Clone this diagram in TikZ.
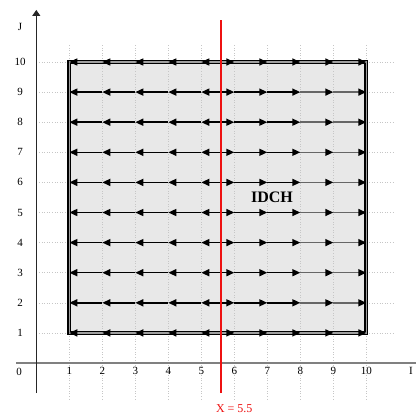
\documentclass[tikz,border=0pt]{standalone}
\usepackage{fontspec}
\setmainfont{Liberation Serif}
\usetikzlibrary{arrows.meta,positioning,backgrounds}
\def\cellwidth{33pt}
\def\cellheight{30.1pt}
\def\cutpos{5.59}
\definecolor{cellfill}{HTML}{e8e8e8}
\definecolor{cutred}{HTML}{ee1111}

\begin{document}
\begin{tikzpicture}[x=\cellwidth, y=\cellheight, myarrow/.style={-{Triangle[length=8pt,width=7pt,color=black]}}]
    \tikzstyle{grid line}=[gray!45, dotted, line width=0.6pt]
    \tikzstyle{flow}=[myarrow, line width=1.5pt, black]
    \tikzstyle{faded flow}=[flow, draw=black!60]
    \tikzstyle{edge flow}=[myarrow, line width=1.6pt, draw=gray!75]
    \tikzstyle{tick}=[font=\fontsize{11}{13}\selectfont]
    \useasboundingbox (-1.1,-1.86) rectangle (11.506,12.06);

    % Grid points
    \foreach \i in {1,...,10}
        \foreach \j in {1,...,10}
            \coordinate (g-\i-\j) at (\i,\j);
    \foreach \j in {1,...,10}
        \coordinate (m-\j) at (5.5,\j);
    \coordinate (O) at (0,0);

    % Box and guides
    \fill[cellfill] (g-1-1) rectangle (g-10-10);
    \foreach \i in {1,...,10}
        \draw[grid line] (\i,-1.2) -- (\i,10.55);
    \foreach \j in {1,...,10}
        \draw[grid line] (0,\j) -- (10.85,\j);

    % Axes
    \draw[gray, line width=1.6pt] (-0.615,0) -- (11.506,0);
    \draw[-{Triangle[length=6pt,width=8pt]}, line width=1.2pt, black!85] (0,-0.997) -- (0,11.73);

    % Flow inside the box
    \foreach \j in {2,...,9} {
        \foreach \i/\k in {1/2,2/3,3/4,4/5}
            \draw[flow] (g-\k-\j) -- (g-\i-\j);
        \draw[flow] (m-\j) -- (g-5-\j);
        \draw[flow] (m-\j) -- (g-6-\j);
        \foreach \i/\k in {6/7,7/8}
            \draw[flow] (g-\i-\j) -- (g-\k-\j);
        \foreach \i/\k in {8/9,9/10}
            \draw[faded flow] (g-\i-\j) -- (g-\k-\j);
    }

    % Border, with the edge rows on it
    \draw[line width=1.2pt, double=gray!75, double distance=1.6pt] (g-1-1) rectangle (g-10-10);
    \foreach \j in {1,10} {
        \foreach \i/\k in {1/2,2/3,3/4,4/5}
            \draw[edge flow] (g-\k-\j) -- (g-\i-\j);
        \draw[edge flow] (m-\j) -- (g-5-\j);
        \draw[edge flow] (m-\j) -- (g-6-\j);
        \foreach \i/\k in {6/7,7/8,8/9,9/10}
            \draw[edge flow] (g-\i-\j) -- (g-\k-\j);
    }

    % Cut line
    \draw[cutred, line width=2.2pt] (\cutpos,-0.997) -- (\cutpos,11.4);

    % Labels
    \foreach \i in {1,...,10}
        \node[tick] (xl-\i) at (\i,-0.27) {\i};
    \foreach \j in {1,...,10}
        \node[tick] (yl-\j) at (-0.49,\j) {\j};
    \node[tick] (xl-0) at (-0.52,-0.3) {0};
    \node[tick] (iname) at (11.35,-0.27) {I};
    \node[tick] (jname) at (-0.49,11.16) {J};
    \node[text=cutred, font=\fontsize{12}{14}\selectfont, anchor=west] (cutlabel) at (5.34,-1.5) {X = 5.5};
    \node[font=\fontsize{16}{19}\selectfont\bfseries] (idch) at (7.14,5.51) {IDCH};
\end{tikzpicture}
\end{document}
